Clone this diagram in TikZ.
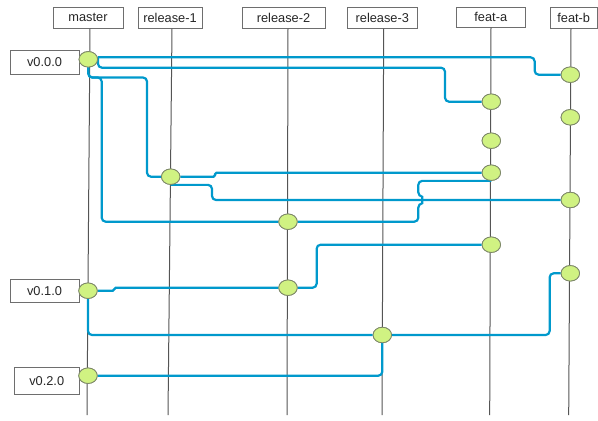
\documentclass[tikz,border=0pt]{standalone}
\usepackage{fontspec}
\setmainfont{Liberation Sans}
\usetikzlibrary{shapes.geometric,calc}
\definecolor{linkblue}{RGB}{0,153,204}
\definecolor{commitfill}{RGB}{208,242,130}
\definecolor{commitedge}{RGB}{125,135,105}
\definecolor{boxedge}{RGB}{110,110,110}
\definecolor{trunkgray}{RGB}{85,85,85}
\tikzset{
  branchbox/.style={draw=boxedge, line width=0.8pt, fill=white, inner sep=0pt,
    minimum height=21pt, font=\fontsize{12.8pt}{15pt}\selectfont, text=black!85},
  tagbox/.style={branchbox},
  commit/.style={ellipse, draw=commitedge, line width=0.8pt, fill=commitfill,
    minimum width=18.5pt, minimum height=15.5pt, inner sep=0pt},
  merge/.style={draw=linkblue, line width=2.2pt, rounded corners=4pt},
  trunk/.style={draw=trunkgray, line width=1pt}
}
\begin{document}
\begin{tikzpicture}[x=1pt,y=-1pt]
\useasboundingbox (0,0) rectangle (598,421);
% branch headers
\node[branchbox, minimum width=70pt] (hmaster) at (88,17.8) {master};
\node[branchbox, minimum width=64pt] (hrel1) at (170,17.8) {release-1};
\node[branchbox, minimum width=83pt] (hrel2) at (283.5,17.8) {release-2};
\node[branchbox, minimum width=70pt] (hrel3) at (382.3,17.8) {release-3};
\node[branchbox, minimum width=69pt, minimum height=20pt] (hfa) at (490.8,17.3) {feat-a};
\node[branchbox, minimum width=46.7pt] (hfb) at (573.7,17.8) {feat-b};
% bottom ends of branch lines
\coordinate (emaster) at (87,415);
\coordinate (erel1) at (168,415);
\coordinate (erel2) at (287,415);
\coordinate (erel3) at (382,415);
\coordinate (efa) at (489.7,415);
\coordinate (efb) at (568.7,415);
% branch lines
\draw[trunk] ([xshift=2pt]hmaster.south) -- (emaster);
\draw[trunk] ([xshift=2pt]hrel1.south) -- (erel1);
\draw[trunk] ([xshift=4.5pt]hrel2.south) -- (erel2);
\draw[trunk] ([xshift=1.4pt]hrel3.south) -- (erel3);
\draw[trunk] ([xshift=0.2pt]hfa.south) -- (efa);
\draw[trunk] ([xshift=-2.7pt]hfb.south) -- (efb);
% tags
\node[tagbox, minimum width=69pt, minimum height=24.3pt] (t0) at (44.5,62.2) {v0.0.0};
\node[tagbox, minimum width=69pt, minimum height=23pt] (t1) at (44.5,290.8) {v0.1.0};
\node[tagbox, minimum width=64.7pt, minimum height=26.7pt] (t2) at (46.7,381) {v0.2.0};
% commits
\node[commit] (m0) at (88.3,59.3) {};
\node[commit] (m1) at (88,290.7) {};
\node[commit] (m2) at (88,375.7) {};
\node[commit] (r1) at (170.7,176.7) {};
\node[commit] (r2a) at (288,221.7) {};
\node[commit] (r2b) at (288,287.7) {};
\node[commit] (r3) at (382.3,335) {};
\node[commit] (fa1) at (491.3,101.7) {};
\node[commit] (fa2) at (491.3,140.7) {};
\node[commit] (fa3) at (491.3,172.7) {};
\node[commit] (fa4) at (491.3,244.7) {};
\node[commit] (fb1) at (570.3,74.7) {};
\node[commit] (fb2) at (570.3,117.3) {};
\node[commit] (fb3) at (570.3,200) {};
\node[commit] (fb4) at (570.3,273.3) {};
% connectors
\begin{scope}[on background layer/.try]
\end{scope}
\draw[merge] ([yshift=2pt]m0.east) -| ($(fb1.west)+(-26,0)$) -- (fb1.west);
\draw[merge] ([yshift=2pt]m0.east) |- (445,67.7) |- (fa1.west);
\draw[merge] (m0.south) |- (147,77.5) |- (r1.west);
\draw[merge] (m0.south) |- (101.7,77.5) |- (r2a.west);
\draw[merge, rounded corners=1.5pt] (r1.east) -| (215,172.7) -- (fa3.west);
\draw[merge] (r1.south) -| (212,200) -- (fb3.west);
\draw[merge] (fa3.south) -| (418.3,196.3) .. controls (422.3,196.8) and (422.3,203.2) .. (418.3,203.7) |- (r2a.east);
\draw[merge] (fa4.west) -| ($(r2b.east)+(19,0)$) -- (r2b.east);
\draw[merge, rounded corners=1.5pt] (m1.east) -| ($(r2b.west)+(-164,0)$) -- (r2b.west);
\draw[merge] (m1.south) |- (r3.west);
\draw[merge] (r3.east) -| ($(fb4.west)+(-11,0)$) -- (fb4.west);
\draw[merge] (m2.east) -| (r3.south);
% redraw commits on top
\foreach \c in {m0,m1,m2,r1,r2a,r2b,r3,fa1,fa2,fa3,fa4,fb1,fb2,fb3,fb4}{
  \node[commit] at (\c) {};
}
\end{tikzpicture}
\end{document}
